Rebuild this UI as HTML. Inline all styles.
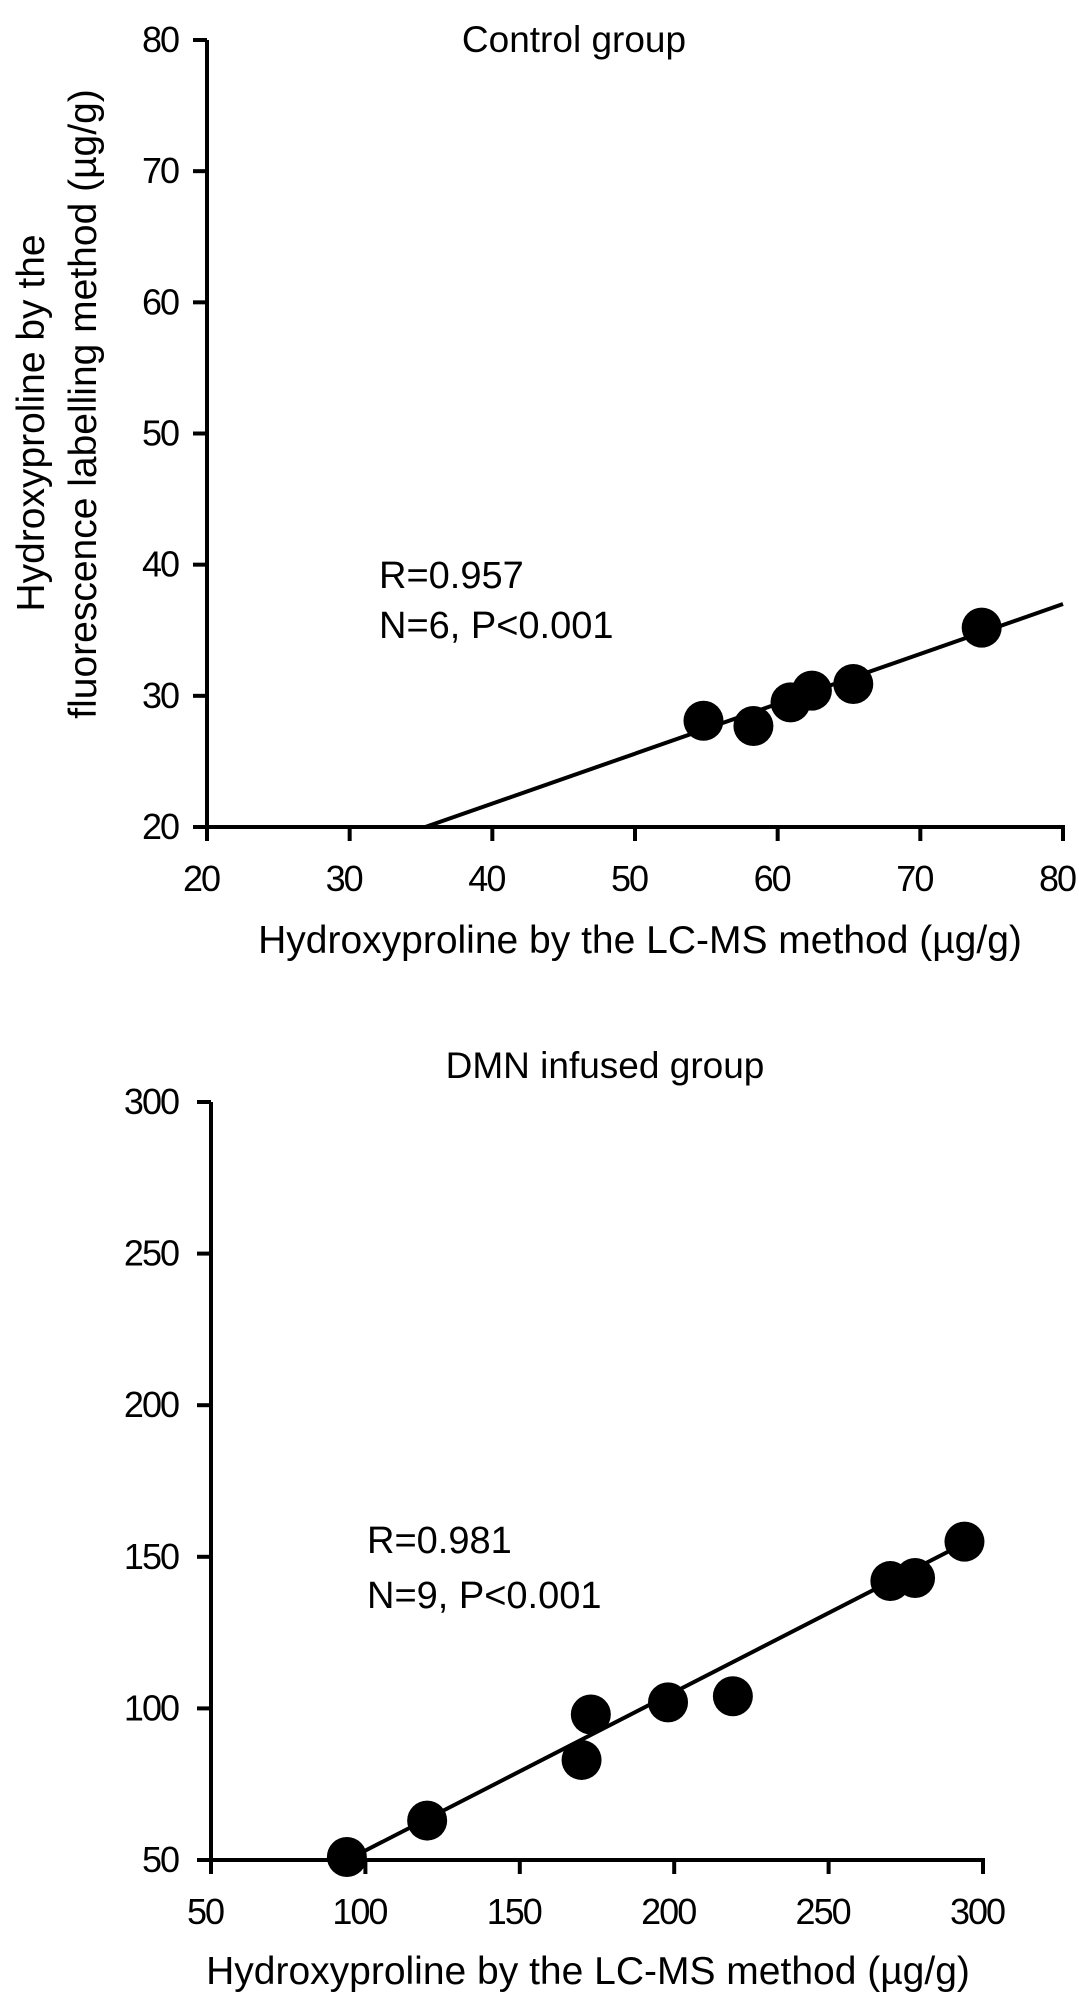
<!DOCTYPE html>
<html><head><meta charset="utf-8"><style>
html,body{margin:0;padding:0;background:#fff}
svg{display:block}
text{font-family:"Liberation Sans",Arial,sans-serif;fill:#000}
.tick{font-size:36px;letter-spacing:-2px}
</style></head><body>
<svg id="fig" width="1079" height="2009" viewBox="0 0 1079 2009" xmlns="http://www.w3.org/2000/svg"></svg>
<script>
// Control group data
const ctrlX = [54.8, 58.3, 60.9, 62.4, 65.3, 74.3];
const ctrlY = [28.1, 27.7, 29.5, 30.4, 30.9, 35.2];
const ctrlFit = [[35.3, 20], [80, 37]];
const ctrlXTicks = [20, 30, 40, 50, 60, 70, 80];
const ctrlYTicks = [20, 30, 40, 50, 60, 70, 80];
// DMN data
const dmnX = [94, 120, 170, 173, 198, 219, 270, 278, 294];
const dmnY = [51, 63, 83, 98, 102, 104, 142, 143, 155];
const dmnFit = [[95, 50.5], [296, 155.5]];
const dmnXTicks = [50, 100, 150, 200, 250, 300];
const dmnYTicks = [50, 100, 150, 200, 250, 300];

const NS = "http://www.w3.org/2000/svg";
const svg = document.getElementById('fig');
function mk(tag, attrs, parent, txt) {
  const e = document.createElementNS(NS, tag);
  for (const k in attrs) e.setAttribute(k, attrs[k]);
  if (txt !== undefined) e.textContent = txt;
  (parent || svg).appendChild(e);
  return e;
}
function panel(cfg) {
  const g = mk('g', {});
  
  
  const sx = v => cfg.x0 + (v - cfg.xmin) / (cfg.xmax - cfg.xmin) * (cfg.x1 - cfg.x0);
  const sy = v => cfg.y0 + (v - cfg.ymin) / (cfg.ymax - cfg.ymin) * (cfg.y1 - cfg.y0);
  // axes
  const ya = mk('line', {x1: cfg.x0, y1: sy(cfg.ymin), x2: cfg.x0, y2: sy(cfg.ymax), stroke: '#000', 'stroke-width': 4}, g);
  
  
  const xa = mk('line', {x1: cfg.x0 - 2, y1: cfg.y0, x2: sx(cfg.xmax) + 2, y2: cfg.y0, stroke: '#000', 'stroke-width': 4}, g);
  
  
  cfg.yTicks.forEach(v => {
    mk('line', {x1: cfg.x0 - 14, y1: sy(v), x2: cfg.x0, y2: sy(v), stroke: '#000', 'stroke-width': 4}, g);
    const t = mk('text', {x: 178, y: sy(v) + 12, 'text-anchor': 'end', class: 'tick'}, g, v);
    
    
  });
  cfg.xTicks.forEach(v => {
    mk('line', {x1: sx(v), y1: cfg.y0, x2: sx(v), y2: cfg.y0 + 14, stroke: '#000', 'stroke-width': 4}, g);
    const t = mk('text', {x: sx(v) - 6, y: cfg.y0 + 64, 'text-anchor': 'middle', class: 'tick'}, g, v);
    
    
  });
  const fl = mk('line', {x1: sx(cfg.fit[0][0]), y1: sy(cfg.fit[0][1]), x2: sx(cfg.fit[1][0]), y2: sy(cfg.fit[1][1]), stroke: '#000', 'stroke-width': 4}, g);
  
  
  cfg.xs.forEach((v, i) => {
    const c = mk('circle', {cx: sx(v), cy: sy(cfg.ys[i]), r: 20, fill: '#000'}, g);
    
    
  });
}
panel({name: 'control-group-chart', x0: 207, x1: 1063, xmin: 20, xmax: 80, y0: 827, y1: 40, ymin: 20, ymax: 80,
  xs: ctrlX, ys: ctrlY, fit: ctrlFit, xTicks: ctrlXTicks, yTicks: ctrlYTicks});
panel({name: 'dmn-group-chart', x0: 211, x1: 983, xmin: 50, xmax: 300, y0: 1860, y1: 1102, ymin: 50, ymax: 300,
  xs: dmnX, ys: dmnY, fit: dmnFit, xTicks: dmnXTicks, yTicks: dmnYTicks});
</script>
<svg width="0" height="0" style="position:absolute"></svg>
<script>
(function(){
const NS="http://www.w3.org/2000/svg", svg=document.getElementById('fig');
function t(x,y,txt,name,size,extra){
  const e=document.createElementNS(NS,'text');
  e.setAttribute('x',x);e.setAttribute('y',y);e.setAttribute('font-size',size);
  e.setAttribute('text-anchor','middle');
  if(extra) for(const k in extra) e.setAttribute(k,extra[k]);
  e.textContent=txt;
  
  
  svg.appendChild(e);
}
t(574,52,'Control group','chart-title-control',37);
t(640,953,'Hydroxyproline by the LC-MS method (µg/g)','x-axis-title-control',39);
t(44,423,'Hydroxyproline by the','y-axis-title-line1',39,{transform:'rotate(-90 44 423)'});
t(96,404,'fluorescence labelling method (µg/g)','y-axis-title-line2',39,{transform:'rotate(-90 96 404)'});
t(379,588,'R=0.957','stat-r-control',38,{'text-anchor':'start'});
t(379,638,'N=6, P<0.001','stat-n-control',38,{'text-anchor':'start'});
t(605,1078,'DMN infused group','chart-title-dmn',37);
t(588,1984,'Hydroxyproline by the LC-MS method (µg/g)','x-axis-title-dmn',39);
t(367,1553,'R=0.981','stat-r-dmn',38,{'text-anchor':'start'});
t(367,1608,'N=9, P<0.001','stat-n-dmn',38,{'text-anchor':'start'});
})();
</script>
</body></html>
